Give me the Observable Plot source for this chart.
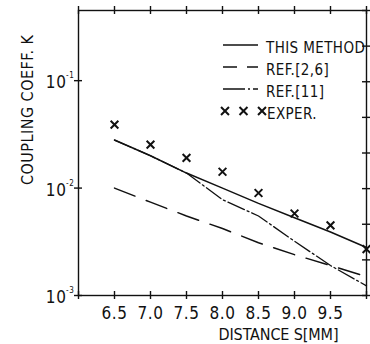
<!DOCTYPE html>
<html>
<head>
<meta charset="utf-8">
<script src="https://cdn.jsdelivr.net/npm/d3@7"></script>
<script src="https://cdn.jsdelivr.net/npm/@observablehq/plot@0.6"></script>
<style>
  html, body { margin: 0; padding: 0; background: #fff; }
  #chart { width: 370px; height: 344px; }
  svg { display: block; }
</style>
</head>
<body>
<div id="chart"></div>
<script>
// ---- data ----
const distance = [6.5, 7.0, 7.5, 8.0, 8.5, 9.0, 9.5, 10.0];
const thisMethod = [0.028, 0.020, 0.0138, 0.0100, 0.0072, 0.0053, 0.0039, 0.0028];
const ref26 = [0.0100, 0.0074, 0.0055, 0.0042, 0.0031, 0.0024, 0.0019, 0.0015];
const ref11 = [0.028, 0.020, 0.0138, 0.0078, 0.0055, 0.0032, 0.0019, 0.00123];
const exper = [0.039, 0.0254, 0.0191, 0.0142, 0.0090, 0.0058, 0.0045, 0.0027];

const seriesNames = ["THIS METHOD", "REF.[2,6]", "REF.[11]", "EXPER."];
const xTickValues = [6.5, 7.0, 7.5, 8.0, 8.5, 9.0, 9.5];
const xTickLabels = ["6.5", "7.0", "7.5", "8.0", "8.5", "9.0", "9.5"];
const xCrossTicks = [6.0, 6.5, 7.0, 7.5, 8.0, 8.5, 9.0, 9.5, 10.0];
const yTickValues = [1e-1, 1e-2, 1e-3];
const yTickExponents = ["-1", "-2", "-3"];
const xTitle = "DISTANCE S[MM]";
const yTitle = "COUPLING COEFF. K";
const xDomain = [6, 10];
const yDomain = [1e-3, 0.45];

// right-hand frame ticks: evenly spaced divisions of the frame height (9 marks)
const rightDivisions = 8;
const lo = Math.log10(yDomain[0]), hi = Math.log10(yDomain[1]);
const rightTicks = d3.range(rightDivisions + 1).map(k => Math.pow(10, lo + (hi - lo) * k / rightDivisions));

const toRows = vals => distance.map((x, i) => ({x, y: vals[i]}));

const INK = "#111";
const FONT = "'Liberation Sans Narrow', 'DejaVu Sans Condensed', sans-serif";

const W = 370, H = 344, ML = 78, MR = 4, MT = 10, MB = 49;
const FW = W - ML - MR, FH = H - MT - MB;
const T = 4; // half-length of the cross ticks
const tickStyle = {stroke: INK, strokeWidth: 1.4};

const chart = Plot.plot({
  width: W,
  height: H,
  marginLeft: ML,
  marginRight: MR,
  marginTop: MT,
  marginBottom: MB,
  style: {background: "#fff", fontFamily: FONT, color: INK},
  x: {domain: xDomain, axis: null},
  y: {type: "log", domain: yDomain, axis: null},
  marks: [
    Plot.frame({stroke: INK, strokeWidth: 1.4}),
    // cross-shaped ticks on all four sides
    Plot.tickX(xCrossTicks, {x: d => d, insetTop: FH - T, insetBottom: -T, ...tickStyle}),
    Plot.tickX(xCrossTicks, {x: d => d, insetTop: -T, insetBottom: FH - T, ...tickStyle}),
    Plot.tickY(yTickValues, {y: d => d, insetLeft: -T, insetRight: FW - T, ...tickStyle}),
    Plot.tickY(rightTicks, {y: d => d, insetLeft: FW - T, insetRight: -T, ...tickStyle}),
    // x tick labels
    Plot.text(xTickValues, {x: d => d, frameAnchor: "bottom", text: (d, i) => xTickLabels[i],
      dy: 18, fontSize: 17, fill: INK, lineAnchor: "middle"}),
    // y tick labels 10^n
    Plot.text(yTickValues, {y: d => d, frameAnchor: "left", text: () => "10",
      dx: -12, dy: 2, textAnchor: "end", fontSize: 17, fill: INK, lineAnchor: "middle"}),
    Plot.text(yTickValues, {y: d => d, frameAnchor: "left", text: (d, i) => yTickExponents[i],
      dx: -12.5, dy: -5, textAnchor: "start", fontSize: 8, fill: INK, lineAnchor: "middle"}),
    // axis titles
    Plot.text([xTitle], {frameAnchor: "bottom-right", text: d => d, dx: -28, dy: 39,
      textAnchor: "end", fontSize: 16, fill: INK, lineAnchor: "middle"}),
    Plot.text([yTitle], {frameAnchor: "left", text: d => d, dx: -51, dy: -43, rotate: -90,
      textAnchor: "middle", fontSize: 16, fill: INK, lineAnchor: "middle"}),
    // data lines
    Plot.line(toRows(ref26), {x: "x", y: "y", stroke: INK, strokeWidth: 1.5, strokeDasharray: "22,12"}),
    Plot.line(toRows(ref11), {x: "x", y: "y", stroke: INK, strokeWidth: 1.3, strokeDasharray: "18,3,2,3"}),
    Plot.line(toRows(thisMethod), {x: "x", y: "y", stroke: INK, strokeWidth: 1.5}),
    Plot.dot(toRows(exper), {x: "x", y: "y", symbol: "times", r: 3.6, stroke: INK, strokeWidth: 2})
  ]
});

// letter spacing for the typewriter-like lettering
const svg = d3.select(chart);
svg.selectAll("text").attr("letter-spacing", "0.6");
// stretch the axis titles to the reference's lettering widths
svg.selectAll("text").filter(function () { return this.textContent === xTitle; })
  .attr("textLength", 120).attr("lengthAdjust", "spacing").attr("letter-spacing", null);
svg.selectAll("text").filter(function () { return this.textContent === yTitle; })
  .attr("textLength", 150).attr("lengthAdjust", "spacing").attr("letter-spacing", null);

// legend inside the frame (top right)
const lg = svg.append("g")
  .attr("font-family", FONT).attr("font-size", 15).attr("fill", INK)
  .attr("text-anchor", "start");
const rowsY = [45, 67, 89, 111];
const sampleX0 = 223, sampleX1 = 258, textX = 266;
const dashes = [null, "14,10", "22,3,2,3", null];
seriesNames.forEach((name, i) => {
  const y = rowsY[i];
  if (i < 3) {
    lg.append("line").attr("x1", sampleX0).attr("x2", sampleX1).attr("y1", y).attr("y2", y)
      .attr("stroke", INK).attr("stroke-width", 1.4)
      .attr("stroke-dasharray", dashes[i]);
  } else {
    const sym = d3.symbol(d3.symbolTimes, 43)();
    [225, 243.5, 262].forEach(cx => {
      lg.append("path").attr("d", sym).attr("transform", `translate(${cx},${y})`)
        .attr("stroke", INK).attr("stroke-width", 2).attr("fill", "none");
    });
  }
  lg.append("text").attr("x", i === 3 ? 267 : textX).attr("y", y + 3).attr("dy", "0.35em")
    .attr("text-anchor", "start").attr("letter-spacing", "0.4").text(name);
});

document.getElementById("chart").appendChild(chart);
</script>
</body>
</html>
